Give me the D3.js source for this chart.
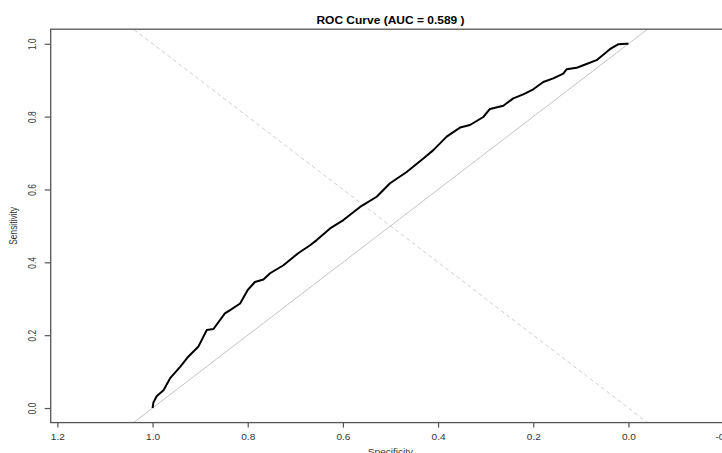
<!DOCTYPE html>
<html>
<head>
<meta charset="utf-8">
<script src="https://cdn.jsdelivr.net/npm/d3@7"></script>
<style>
  body { margin: 0; background: #fff; }
  svg { display: block; font-family: "Liberation Sans", Arial, sans-serif; }
</style>
</head>
<body>
<div id="chart"></div>
<script>
const chartTitle = 'ROC Curve (AUC = 0.589 )';
const xLabel = 'Specificity';
const yLabel = 'Sensitivity';

// points (specificity, sensitivity)
const specificity = [1.000, 0.998, 0.991, 0.977, 0.963, 0.942, 0.925, 0.904, 0.886, 0.872,
  0.848, 0.837, 0.816, 0.800, 0.785, 0.767, 0.753, 0.725, 0.694, 0.669,
  0.655, 0.627, 0.599, 0.564, 0.529, 0.501, 0.466, 0.431, 0.410, 0.382,
  0.354, 0.333, 0.305, 0.291, 0.263, 0.242, 0.221, 0.200, 0.179, 0.158,
  0.137, 0.130, 0.109, 0.095, 0.067, 0.039, 0.021, 0.004, 0.000];
const sensitivity = [0.000, 0.016, 0.033, 0.049, 0.082, 0.113, 0.141, 0.168, 0.214, 0.217,
  0.260, 0.269, 0.287, 0.324, 0.346, 0.353, 0.370, 0.392, 0.425, 0.447,
  0.461, 0.493, 0.516, 0.552, 0.580, 0.617, 0.648, 0.685, 0.708, 0.745,
  0.770, 0.777, 0.799, 0.821, 0.830, 0.850, 0.861, 0.875, 0.895, 0.905,
  0.918, 0.930, 0.934, 0.941, 0.955, 0.985, 0.999, 1.000, 1.000];

const xTicks = [1.2, 1.0, 0.8, 0.6, 0.4, 0.2, 0.0, -0.2];
const yTicks = [0.0, 0.2, 0.4, 0.6, 0.8, 1.0];
const xLimits = [1.214, -0.214];
const yLimits = [-0.04, 1.04];

const width = 722;
const height = 453;
const plot = { left: 50.7, right: 730.3, top: 29.2, bottom: 422.6 };
const stretch = 1.2; // the picture is wider than it is tall
const boxColor = '#555';
const labelColor = '#333';

const xScale = d3.scaleLinear().domain(xLimits).range([plot.left, plot.right]);
const yScale = d3.scaleLinear().domain(yLimits).range([plot.bottom, plot.top]);

const svg = d3.select('#chart')
  .append('svg')
  .attr('width', width)
  .attr('height', height);

svg.append('rect')
  .attr('width', width)
  .attr('height', height)
  .attr('fill', '#fff');

svg.append('clipPath')
  .attr('id', 'plot-clip')
  .append('rect')
  .attr('x', plot.left)
  .attr('y', plot.top)
  .attr('width', plot.right - plot.left)
  .attr('height', plot.bottom - plot.top);

const inner = svg.append('g').attr('clip-path', 'url(#plot-clip)');

// reference diagonals: sens = 1 - spec (solid) and sens = spec (dashed)
const line = d3.line().x(d => xScale(d[0])).y(d => yScale(d[1]));
inner.append('path')
  .attr('d', line(xLimits.map(x => [x, 1 - x])))
  .attr('fill', 'none')
  .attr('stroke', '#c4c4c4')
  .attr('stroke-width', 1);

inner.append('path')
  .attr('d', line(xLimits.map(x => [x, x])))
  .attr('fill', 'none')
  .attr('stroke', '#cfcfcf')
  .attr('stroke-width', 1)
  .attr('stroke-dasharray', '4,3');

inner.append('path')
  .datum(specificity.map((s, i) => [s, sensitivity[i]]))
  .attr('d', line)
  .attr('fill', 'none')
  .attr('stroke', '#000')
  .attr('stroke-width', 2)
  .attr('stroke-linejoin', 'round');

// box
svg.append('rect')
  .attr('x', plot.left)
  .attr('y', plot.top)
  .attr('width', plot.right - plot.left)
  .attr('height', plot.bottom - plot.top)
  .attr('fill', 'none')
  .attr('stroke', boxColor)
  .attr('stroke-width', 1.3);

const xAxis = svg.append('g')
  .attr('transform', `translate(0, ${plot.bottom})`)
  .call(d3.axisBottom(xScale).tickValues(xTicks).tickSize(5).tickFormat(d => d.toFixed(1)));

const yAxis = svg.append('g')
  .attr('transform', `translate(${plot.left}, 0)`)
  .call(d3.axisLeft(yScale).tickValues(yTicks).tickSize(6).tickFormat(d => d.toFixed(1)));

[xAxis, yAxis].forEach(ax => {
  ax.select('.domain').remove();
  ax.selectAll('.tick line').attr('stroke', boxColor).attr('stroke-width', 1.2);
  ax.selectAll('.tick text')
    .attr('fill', labelColor)
    .style('font-size', '8.4px')
    .attr('font-family', null)
    .attr('x', null).attr('y', null).attr('dy', null);
});

xAxis.selectAll('.tick text')
  .attr('text-anchor', 'middle')
  .attr('transform', `translate(0, 17.6) scale(${stretch}, 1)`);

yAxis.selectAll('.tick text')
  .attr('text-anchor', 'middle')
  .attr('transform', `translate(-14.7, 0) scale(${stretch}, 1) rotate(-90)`);

svg.append('text')
  .attr('text-anchor', 'middle')
  .attr('transform', `translate(${(plot.left + plot.right) / 2}, 24) scale(${stretch}, 1)`)
  .style('font-size', '10px')
  .style('font-weight', 'bold')
  .attr('fill', '#000')
  .text(chartTitle);

svg.append('text')
  .attr('text-anchor', 'middle')
  .attr('transform', `translate(${(plot.left + plot.right) / 2}, 454.5) scale(${stretch}, 1)`)
  .style('font-size', '8.4px')
  .attr('fill', labelColor)
  .text(xLabel);

svg.append('text')
  .attr('text-anchor', 'middle')
  .attr('transform', `translate(16.5, ${yScale(0.5)}) scale(${stretch}, 1) rotate(-90)`)
  .style('font-size', '8.4px')
  .attr('fill', labelColor)
  .text(yLabel);
</script>
</body>
</html>
